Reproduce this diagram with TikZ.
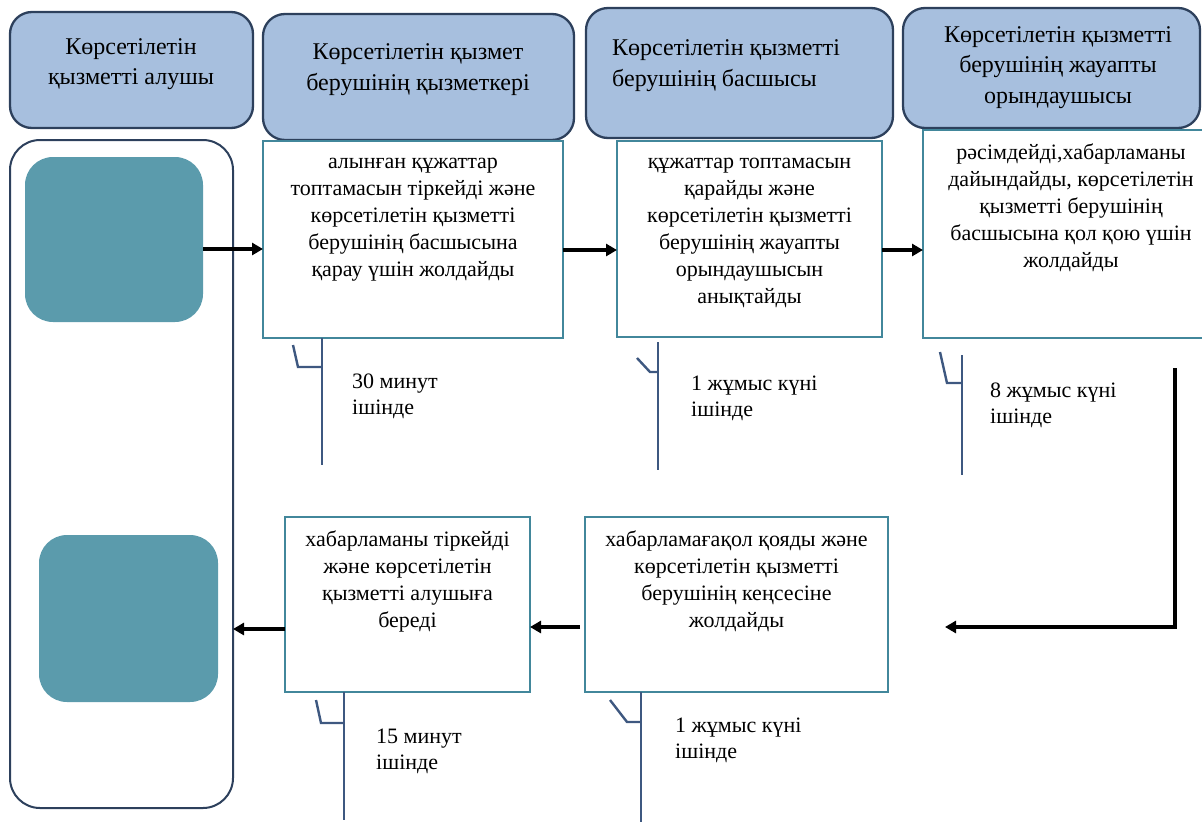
\documentclass[tikz,border=0pt]{standalone}
\usepackage{fontspec}
\setmainfont{Liberation Serif}
\usetikzlibrary{positioning,arrows.meta,calc}

\definecolor{headfill}{RGB}{167,191,222}
\definecolor{headline}{RGB}{45,64,92}
\definecolor{stepline}{RGB}{66,135,155}
\definecolor{tealfill}{RGB}{91,155,172}
\definecolor{timeline}{RGB}{62,88,128}

\begin{document}
\begin{tikzpicture}[x=1pt,y=-1pt]
    % `header' is used for the lane titles on top.
    % `stepbox' is used for the process steps, `steptext' for their texts.
    % `timemark' is used for the small time brackets under the steps.
    \tikzstyle{header} = [draw=headline,fill=headfill,line width=2.3pt,rounded corners=22pt,inner sep=0pt,outer sep=0pt]
    \tikzstyle{headtext} = [font=\fontsize{24}{30.5}\selectfont,align=center,inner sep=0pt]
    \tikzstyle{stepbox} = [draw=stepline,line width=2.2pt,inner sep=0pt,outer sep=0pt]
    \tikzstyle{steptext} = [font=\fontsize{22}{27}\selectfont,align=center,inner sep=0pt,anchor=north]
    \tikzstyle{timemark} = [draw=timeline,line width=2.4pt]
    \tikzstyle{timetext} = [font=\fontsize{22}{26}\selectfont,align=left,inner sep=0pt,anchor=north west]
    \tikzstyle{arr} = [line width=3.2pt,-{Triangle[length=11pt,width=12pt]}]
    %
    \useasboundingbox (0,0) rectangle (1202,825);
    % Lane titles.
    \node[header,minimum width=243pt,minimum height=116pt] (h1) at (131.5,70) {};
    \node[header,minimum width=311pt,minimum height=126pt] (h2) at (418.5,77) {};
    \node[header,minimum width=307pt,minimum height=130pt] (h3) at (739.5,73) {};
    \node[header,minimum width=297pt,minimum height=120pt] (h4) at (1051.5,68) {};
    \node[headtext] (h1t) at (131,64) {Көрсетілетін\\қызметті алушы};
    \node[headtext] (h2t) at (418,69.5) {Көрсетілетін қызмет\\берушінің қызметкері};
    \node[headtext,align=left,anchor=west] (h3t) at (612,65.5) {Көрсетілетін қызметті\\берушінің басшысы};
    \node[headtext] (h4t) at (1058,67.5) {Көрсетілетін қызметті\\берушінің жауапты\\орындаушысы};
    % Service receiver lane.
    \node[draw=headline,line width=2pt,rounded corners=30pt,minimum width=223pt,minimum height=668pt,outer sep=0pt] (recv) at (121.5,474) {};
    \node[fill=tealfill,rounded corners=28pt,minimum width=178pt,minimum height=165pt,outer sep=0pt] (tealA) at (114,239.5) {};
    \node[fill=tealfill,rounded corners=28pt,minimum width=179pt,minimum height=167pt,outer sep=0pt] (tealB) at (128.5,618.5) {};
    % Steps.
    \node[stepbox,minimum width=300pt,minimum height=197pt] (b1) at (413,239.5) {};
    \node[stepbox,minimum width=265pt,minimum height=196pt] (b2) at (749.5,239) {};
    \node[stepbox,minimum width=296pt,minimum height=208pt] (b3) at (1071,234) {};
    \node[stepbox,minimum width=245pt,minimum height=175pt] (b4) at (407.5,604.5) {};
    \node[stepbox,minimum width=303pt,minimum height=175pt] (b5) at (736.5,604.5) {};
    \node[steptext] (b1t) at ([yshift=-17pt]b1.north) {алынған құжаттар\\топтамасын тіркейді және\\көрсетілетін қызметті\\берушінің басшысына\\қарау үшін жолдайды};
    \node[steptext] (b2t) at ([yshift=-17pt]b2.north) {құжаттар топтамасын\\қарайды және\\көрсетілетін қызметті\\берушінің жауапты\\орындаушысын\\анықтайды};
    \node[steptext] (b3t) at ([yshift=-14pt]b3.north) {рәсімдейді,хабарламаны\\дайындайды, көрсетілетін\\қызметті берушінің\\басшысына қол қою үшін\\жолдайды};
    \node[steptext] (b4t) at ([yshift=-14pt]b4.north) {хабарламаны тіркейді\\және көрсетілетін\\қызметті алушыға\\береді};
    \node[steptext] (b5t) at ([yshift=-14pt]b5.north) {хабарламағақол қояды және\\көрсетілетін қызметті\\берушінің кеңсесіне\\жолдайды};
    % Time brackets.
    \foreach \x/\top/\bot/\hx/\hy/\mx/\my/\tx/\ty/\lbl in {
        322/338/465/293/345/298/367/352/374/{30 минут\\ішінде},
        658/342/470/637/358/650/372/691/376/{1 жұмыс күні\\ішінде},
        962/355/475/940/352/947/383/990/383/{8 жұмыс күні\\ішінде},
        344/692/820/316/700/321/723/376/729/{15 минут\\ішінде},
        641/692/822/610/700/627/722/675/718/{1 жұмыс күні\\ішінде}} {
      \draw[timemark] (\x,\top) -- (\x,\bot);
      \draw[timemark] (\hx,\hy) -- (\mx,\my) -- (\x,\my);
      \node[timetext] at (\tx,\ty) {\lbl};
    }
    % Arrows.
    \coordinate (turnA) at (1175,368);
    \coordinate (turnB) at (945,627);
    \draw[arr] ([yshift=-9.5pt]tealA.east) -- ([yshift=-9.5pt]tealA.east -| b1.west);
    \draw[arr] ([yshift=-10.5pt]b1.east) -- ([yshift=-10.5pt]b1.east -| b2.west);
    \draw[arr] ([yshift=-11pt]b2.east) -- ([yshift=-11pt]b2.east -| b3.west);
    \draw[arr] (turnA) |- (turnB);
    \draw[arr] ([xshift=-5pt,yshift=-22.5pt]b5.west) -- ([yshift=-22.5pt]b5.west -| b4.east);
    \draw[arr] ([yshift=-24.5pt]b4.west) -- ([yshift=-24.5pt]b4.west -| recv.east);
\end{tikzpicture}
\end{document}
